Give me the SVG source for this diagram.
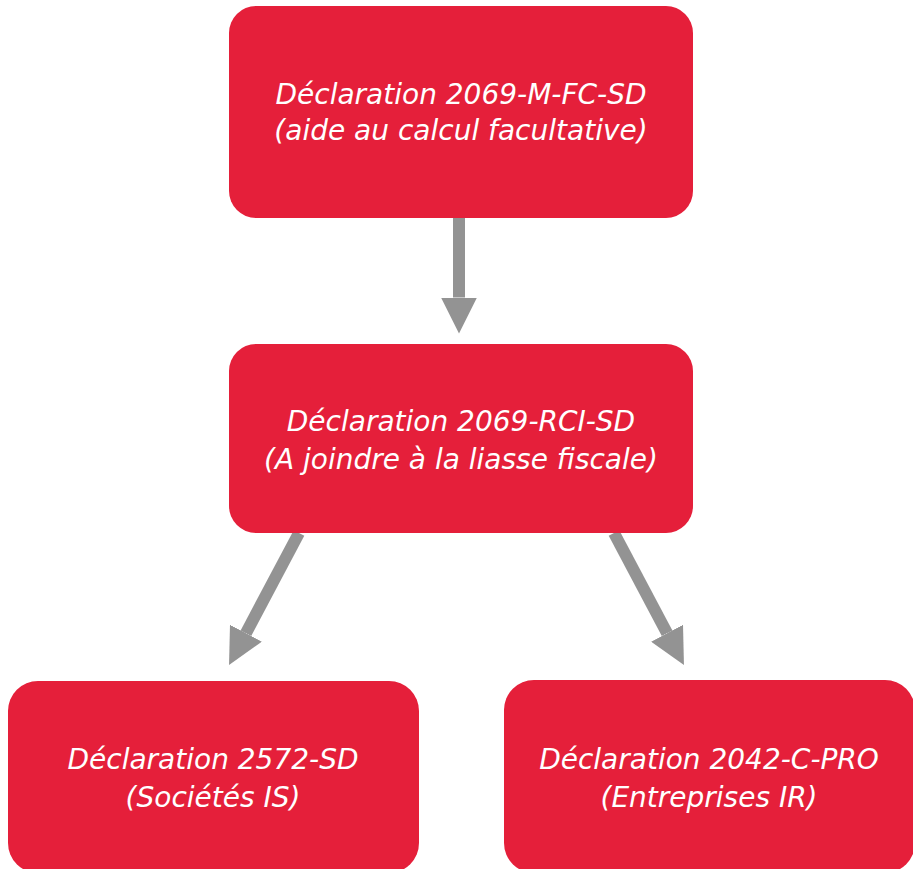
<svg xmlns="http://www.w3.org/2000/svg" width="913" height="869" viewBox="0 0 913 869">
<defs>
<style>
.box{fill:#E51F3A}
.t{font-family:"DejaVu Sans","Noto Sans",sans-serif;font-style:italic;font-size:28px;fill:#fff;text-anchor:middle}
.c{stroke:#939393;stroke-width:12;fill:none}
</style>
<marker id="ah" markerUnits="userSpaceOnUse" markerWidth="36" markerHeight="36" viewBox="0 0 36 36" refX="0" refY="18" orient="auto">
<path d="M0,0 L36,18 L0,36 z" fill="#939393"/>
</marker>
</defs>
<rect width="913" height="869" fill="#fff"/>
<g id="connectors">
<line class="c" x1="459" y1="218" x2="459" y2="297.5" marker-end="url(#ah)"/>
<line class="c" x1="299" y1="533" x2="245.9" y2="633.2" marker-end="url(#ah)"/>
<line class="c" x1="614" y1="533" x2="667.1" y2="633.2" marker-end="url(#ah)"/>
</g>
<g id="n1">
<rect class="box" x="229" y="6" width="464" height="212" rx="27"/>
<text class="t" x="461" y="104">Déclaration 2069-M-FC-SD</text>
<text class="t" x="461" y="140">(aide au calcul facultative)</text>
</g>
<g id="n2">
<rect class="box" x="229" y="344" width="464" height="189" rx="27"/>
<text class="t" x="461" y="431">Déclaration 2069-RCI-SD</text>
<text class="t" x="461" y="469">(A joindre à la liasse fiscale)</text>
</g>
<g id="n3">
<rect class="box" x="8" y="681" width="411" height="192" rx="30"/>
<text class="t" x="213" y="769">Déclaration 2572-SD</text>
<text class="t" x="213" y="807">(Sociétés IS)</text>
</g>
<g id="n4">
<rect class="box" x="504" y="680" width="411" height="193" rx="30"/>
<text class="t" x="709" y="769">Déclaration 2042-C-PRO</text>
<text class="t" x="709" y="807">(Entreprises IR)</text>
</g>
</svg>
